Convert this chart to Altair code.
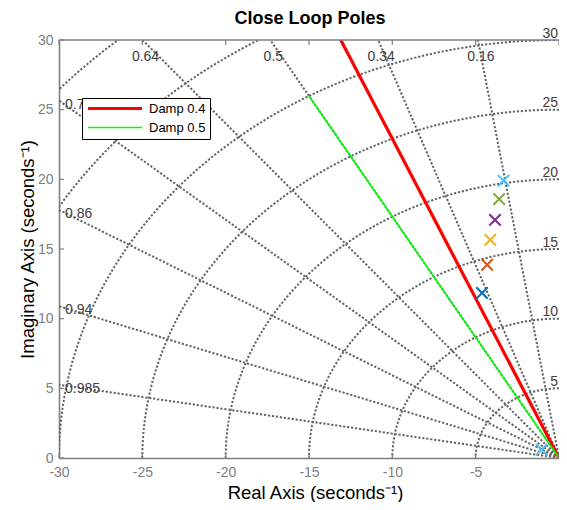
import altair as alt
import numpy as np
import pandas as pd

# ---- data ----
zeta_grid = [0.16, 0.34, 0.5, 0.64, 0.76, 0.86, 0.94, 0.985]
wn_grid = [5, 10, 15, 20, 25, 30, 35, 40]
wn_labels = [5, 10, 15, 20, 25, 30]
top_zeta = [0.64, 0.5, 0.34, 0.16]
left_zeta = [0.76, 0.86, 0.94, 0.985]

damp_names = ["Damp 0.4", "Damp 0.5"]
damp_zeta = [0.4, 0.5]
damp_wn_end = [60, 30]
damp_colors = ["#ff0000", "#00ff00"]
damp_widths = [3.2, 1.6]

pole_ids = ["p1", "p2", "p3", "p4", "p5", "p6", "p7"]
pole_re = [-4.62, -4.31, -4.12, -3.84, -3.59, -3.33, -1.04]
pole_im = [11.84, 13.87, 15.66, 17.09, 18.58, 19.91, 0.6]
pole_colors = ["#0072BD", "#D95319", "#EDB120", "#7E2F8E", "#77AC30", "#4DBEEE", "#4DBEEE"]

x_ticks = [-30, -25, -20, -15, -10, -5, 0]
y_ticks = [0, 5, 10, 15, 20, 25, 30]

FONT = "Liberation Sans"
W, H = 500, 418
GRID = "#656565"
AX = "#808080"

# ---- grid geometry (s-plane grid) ----
arc_rows = []
for wn in wn_grid:
    for i, th in enumerate(np.linspace(np.pi / 2, np.pi, 121)):
        arc_rows.append({"g": f"w{wn}", "i": i, "x": wn * np.cos(th), "y": wn * np.sin(th)})
ray_rows = []
for z in zeta_grid:
    ray_rows.append({"g": f"z{z}", "i": 0, "x": 0.0, "y": 0.0})
    ray_rows.append({"g": f"z{z}", "i": 1, "x": -60 * z, "y": 60 * np.sqrt(1 - z * z)})
grid_df = pd.DataFrame(arc_rows + ray_rows)

top_df = pd.DataFrame({"t": [str(z) for z in top_zeta],
                       "x": [-30 * z / np.sqrt(1 - z * z) for z in top_zeta],
                       "y": [30] * len(top_zeta)})
left_df = pd.DataFrame({"t": [str(z) for z in left_zeta],
                        "x": [-30] * len(left_zeta),
                        "y": [30 * np.sqrt(1 - z * z) / z for z in left_zeta]})
wn_df = pd.DataFrame({"t": [str(w) for w in wn_labels], "x": [0] * len(wn_labels), "y": wn_labels})

damp_rows = []
for n, z, w in zip(damp_names, damp_zeta, damp_wn_end):
    damp_rows.append({"name": n, "i": 0, "x": 0.0, "y": 0.0})
    damp_rows.append({"name": n, "i": 1, "x": -w * z, "y": w * np.sqrt(1 - z * z)})
damp_df = pd.DataFrame(damp_rows)

pole_df = pd.DataFrame({"id": pole_ids, "x": pole_re, "y": pole_im})
xt_df = pd.DataFrame({"v": x_ticks})
yt_df = pd.DataFrame({"v": y_ticks})

# ---- scales / axes ----
xs = alt.Scale(domain=[-30, 0], nice=False, zero=False)
ys = alt.Scale(domain=[0, 30], nice=False, zero=False)
xaxis = alt.Axis(values=x_ticks, title="Real Axis (seconds⁻¹)", grid=False, ticks=False, tickSize=0,
                 domainColor=AX, domainWidth=1.6, labelColor=AX, labelFont=FONT, labelFontSize=14,
                 labelPadding=7, labelFlush=False,
                 labelExpr="datum.value == 0 ? '' : '' + datum.value",
                 titleFont=FONT, titleFontSize=18.5, titleFontWeight="normal", titleColor="black",
                 titleX=256, titleY=40, titleBaseline="alphabetic", titleAlign="center")
yaxis = alt.Axis(values=y_ticks, title="Imaginary Axis (seconds⁻¹)", grid=False, ticks=False, tickSize=0,
                 domainColor=AX, domainWidth=1.6, labelColor=AX, labelFont=FONT, labelFontSize=14,
                 labelPadding=6, labelFlush=False, labelExpr="'' + datum.value",
                 titleFont=FONT, titleFontSize=18.5, titleFontWeight="normal", titleColor="black",
                 titleX=-26, titleY=209, titleBaseline="alphabetic", titleAlign="center", titleAngle=270)


def X(f="x"):
    return alt.X(f, type="quantitative", scale=xs, axis=xaxis)


def Y(f="y"):
    return alt.Y(f, type="quantitative", scale=ys, axis=yaxis)


grid = alt.Chart(grid_df).mark_line(clip=True, color=GRID, strokeWidth=2, strokeDash=[2.2, 1.8]).encode(
    x=X(), y=Y(), detail="g:N", order="i:Q")

txt_style = dict(font=FONT, fontSize=14, color="#404040")
top_txt = alt.Chart(top_df).mark_text(align="center", baseline="middle", dx=3, dy=17, **txt_style).encode(
    x=X(), y=Y(), text="t:N")
left_txt = alt.Chart(left_df).mark_text(align="left", baseline="middle", dx=6, dy=4, **txt_style).encode(
    x=X(), y=Y(), text="t:N")
wn_txt = alt.Chart(wn_df).mark_text(align="right", baseline="alphabetic", dx=-1, dy=-2.5, **txt_style).encode(
    x=X(), y=Y(), text="t:N")

damp = alt.Chart(damp_df).mark_line(clip=True).encode(
    x=X(), y=Y(), order="i:Q",
    color=alt.Color("name:N", scale=alt.Scale(domain=damp_names, range=damp_colors),
                    legend=alt.Legend(title=None)),
    strokeWidth=alt.StrokeWidth("name:N", scale=alt.Scale(domain=damp_names, range=damp_widths),
                                legend=alt.Legend(title=None)))

poles = alt.Chart(pole_df).mark_point(shape="M-1,-1L1,1M-1,1L1,-1", filled=False, size=130,
                                      strokeWidth=2, opacity=1).encode(
    x=X(), y=Y(),
    stroke=alt.Stroke("id:N", scale=alt.Scale(domain=pole_ids, range=pole_colors), legend=None))

left_ticks = alt.Chart(yt_df).mark_rule(color=AX, strokeWidth=1.2).encode(
    y=Y("v"), x=alt.value(0), x2=alt.value(5))
top_ticks = alt.Chart(xt_df).mark_rule(color=AX, strokeWidth=1.2).encode(
    x=X("v"), y=alt.value(0), y2=alt.value(5))
bot_ticks = alt.Chart(xt_df).mark_rule(color=AX, strokeWidth=1.2).encode(
    x=X("v"), y=alt.value(H - 5), y2=alt.value(H))
top_border = alt.Chart(xt_df.head(1)).mark_rule(color=AX, strokeWidth=1.6).encode(
    x=alt.value(0), x2=alt.value(W), y=alt.value(0))

chart = alt.layer(grid, top_txt, left_txt, wn_txt, damp, poles, left_ticks, top_ticks, bot_ticks,
                  top_border).properties(
    width=W, height=H,
    title=alt.Title("Close Loop Poles", font=FONT, fontSize=18, fontWeight="bold", color="black",
                    anchor="middle", offset=0, baseline="alphabetic", dx=1, dy=15),
    autosize=alt.AutoSizeParams(type="none"),
    padding={"left": 51, "top": 32, "right": 0, "bottom": 44},
).configure_view(stroke=None).configure_legend(
    orient="none", legendX=23, legendY=58, fillColor="white", strokeColor="black",
    padding=4, rowPadding=5, labelFont=FONT, labelFontSize=13, labelColor="black",
    symbolType="stroke", symbolSize=2916, labelOffset=5, clipHeight=13, cornerRadius=0)

chart.save("out.html", embed_options={"renderer": "svg", "actions": False})
